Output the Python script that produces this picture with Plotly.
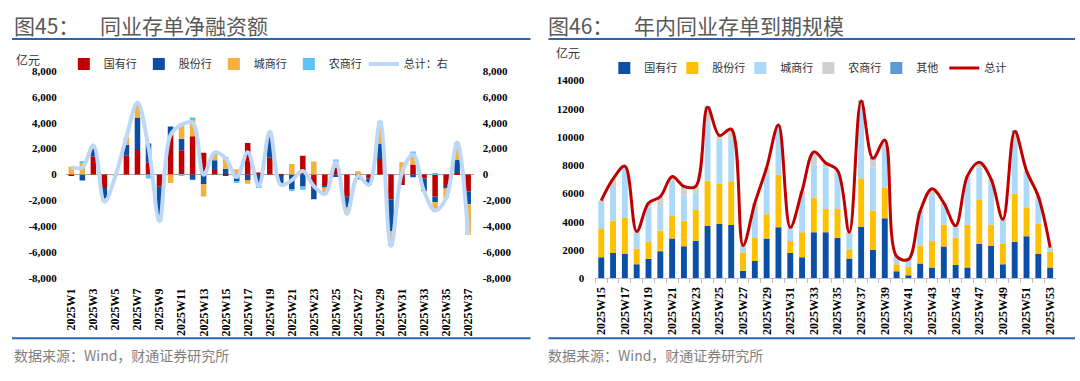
import plotly.graph_objects as go

# ---------------- Left chart data (图45) ----------------
weeks_l = ["2025W%d" % i for i in range(1, 38)]
soe_l   = [-50, 0, 1400, -1050, 0, 1450, 1900, 900, -950, 3050, 1870, 2950, 1690, 350, -100, 0, 2440, 150, 1300, -50,
           0, 1440, -1100, -800, 500, -1720, 0, -300, 1200, -1920, -800, 770, -300, -1700, -920, 120, -1300]
jsb_l   = [0, -470, 600, -800, 0, 850, 2500, 1500, -2200, 650, 900, -400, -750, 750, 450, -500, -420, -670, 1800, -650,
           -1170, -920, -800, -200, -200, -820, -370, -500, 1200, -2450, 0, -220, -1000, -450, -150, 1000, -1000]
city_l  = [600, 900, 250, -150, -100, 600, 1150, 0, -350, -650, 1170, 1300, -950, 450, 700, 400, -300, 0, 100, 0,
           820, 0, 1000, -500, 450, -500, 250, 0, 1550, -950, 950, 800, 0, -750, -750, 1200, -2360]
rural_l = [0, 120, 0, -100, 0, 0, 0, -300, -100, 0, -100, 150, 0, 150, 200, -100, 0, -370, 100, -100,
           -80, -250, 0, 0, 200, 0, 0, 0, 150, -200, 0, 200, 0, 120, 0, 150, 0]
total_l = [a + b + c + d for a, b, c, d in zip(soe_l, jsb_l, city_l, rural_l)]
yticks_l = [-8000, -6000, -4000, -2000, 0, 2000, 4000, 6000, 8000]
ytext_l = ["-8,000", "-6,000", "-4,000", "-2,000", "0", "2,000", "4,000", "6,000", "8,000"]

# ---------------- Right chart data (图46) ----------------
weeks_r = ["2025W%d" % i for i in range(15, 54)]
soe_r   = [1480, 1780, 1710, 980, 1370, 1900, 2810, 2260, 2650, 3700, 3840, 3770, 520, 1210, 2810, 3610, 1780, 1480,
           3260, 3260, 2850, 1390, 3650, 2010, 4250, 480, 200, 1030, 750, 2240, 940, 750, 2440, 2280, 980, 2580,
           2970, 1710, 750]
jsb_r   = [2010, 2280, 2580, 1120, 1210, 1480, 1600, 1800, 2170, 3200, 2850, 3100, 1300, 1640, 1710, 3720, 850, 1780,
           2440, 1640, 2050, 660, 3420, 2790, 2150, 500, 600, 1280, 1890, 1550, 1920, 3010, 3100, 1500, 1440, 3420,
           2050, 2170, 1140]
city_r  = [1830, 2400, 3420, 1100, 2510, 1710, 2400, 1780, 1230, 4050, 3080, 3010, 450, 2240, 2850, 3360, 870, 2630,
           2350, 2920, 2500, 1100, 5090, 3040, 2810, 460, 460, 2330, 3240, 1300, 750, 3260, 2280, 2900, 1640, 3650,
           2350, 1670, 230]
rural_r = [180, 570, 230, 100, 230, 690, 390, 660, 460, 1100, 340, 680, 50, 230, 460, 160, 100, 300,
           900, 340, 230, 100, 340, 570, 570, 110, 70, 110, 450, 230, 110, 230, 390, 340, 110, 700,
           230, 230, 50]
other_r = [0, 0, 0, 0, 0, 0, 0, 0, 0, 60, 0, 0, 0, 0, 0, 0, 0, 0,
           0, 0, 0, 0, 60, 80, 0, 0, 0, 0, 0, 0, 0, 0, 0, 0, 0, 50,
           0, 0, 0]
total_r = [a + b + c + d + e for a, b, c, d, e in zip(soe_r, jsb_r, city_r, rural_r, other_r)]
yticks_r = [0, 2000, 4000, 6000, 8000, 10000, 12000, 14000]

CJK = "Noto Sans CJK SC"
NUM = "Liberation Serif"
tickfont = dict(family=NUM, size=11, color="#000000", weight="bold")
xtickfont = dict(family=NUM, size=12, color="#000000", weight="bold")

fig = go.Figure()

# left bars
for name, vals, color in [("国有行", soe_l, "#C00000"), ("股份行", jsb_l, "#0B4EA2"),
                          ("城商行", city_l, "#F4B13E"), ("农商行", rural_l, "#5CC3F5")]:
    fig.add_bar(x=weeks_l, y=vals, name=name, marker=dict(color=color, line=dict(width=0)),
                xaxis="x", yaxis="y", legend="legend")
fig.add_scatter(x=weeks_l, y=total_l, mode="lines", name="总计：右", legendwidth=60,
                line=dict(color="#BDD8F6", width=4, shape="spline", smoothing=1),
                xaxis="x", yaxis="y2", legend="legend")

# right bars
for name, vals, color in [("国有行", soe_r, "#0B50A6"), ("股份行", jsb_r, "#FFC000"),
                          ("城商行", city_r, "#ABDAF8"), ("农商行", rural_r, "#D0D0D0"),
                          ("其他", other_r, "#5B9BD5")]:
    fig.add_bar(x=weeks_r, y=vals, name=name, marker=dict(color=color, line=dict(width=0)),
                xaxis="x2", yaxis="y3", legend="legend2")
fig.add_scatter(x=weeks_r, y=total_r, mode="lines", name="总计", legendwidth=40,
                line=dict(color="#C00000", width=3, shape="spline", smoothing=1),
                xaxis="x2", yaxis="y3", legend="legend2")

def py(px):
    return 1 - px / 381.0

yl_dom = [py(281), py(67)]
zero_pos = (yl_dom[0] + yl_dom[1]) / 2

fig.update_layout(
    width=1080, height=381, autosize=False,
    margin=dict(l=0, r=0, t=0, b=0),
    paper_bgcolor="white", plot_bgcolor="white",
    barmode="relative", bargap=0.5,
    font=dict(family=CJK, size=11, color="#333333"),
    xaxis=dict(domain=[64 / 1080, 473 / 1080], anchor="y", type="category",
               tickmode="array", tickvals=weeks_l,
               ticktext=[w if i % 2 == 0 else "" for i, w in enumerate(weeks_l)],
               tickangle=-90, tickfont=xtickfont, showline=False, ticks="", showgrid=False,
               ticklabelstandoff=7, range=[-0.5, 36.5]),
    xaxis3=dict(overlaying="x", anchor="free", position=zero_pos, type="linear",
                range=[-0.5, 36.5], tickmode="array", tickvals=[i - 0.5 for i in range(38)],
                showticklabels=False, ticks="outside", ticklen=3, tickcolor="#A6A6A6",
                showline=False, showgrid=False, zeroline=False),
    yaxis=dict(domain=yl_dom, anchor="x", range=[-8000, 8000], tickmode="array",
               tickvals=yticks_l, ticktext=ytext_l, tickfont=tickfont, showgrid=False,
               zeroline=True, zerolinecolor="#A6A6A6", zerolinewidth=1, showline=False,
               ticklabelstandoff=8),
    yaxis2=dict(overlaying="y", side="right", anchor="x", range=[-8000, 8000], tickmode="array",
                tickvals=yticks_l, ticktext=ytext_l, tickfont=tickfont, showgrid=False,
                zeroline=False, showline=False, ticklabelstandoff=8),
    xaxis2=dict(domain=[595 / 1080, 1057 / 1080], anchor="y3", type="category",
                tickmode="array", tickvals=weeks_r,
                ticktext=[w if i % 2 == 0 else "" for i, w in enumerate(weeks_r)],
                tickangle=-90, tickfont=xtickfont, showline=True, linecolor="#BFBFBF", linewidth=1,
                ticks="outside", ticklen=4, tickcolor="#BFBFBF", tickson="boundaries", showgrid=False,
                ticklabelstandoff=3, range=[-0.5, 38.5]),
    yaxis3=dict(domain=[py(281), py(77)], anchor="x2", range=[0, 14000], tickmode="array",
                tickvals=yticks_r, ticktext=[str(v) for v in yticks_r], tickfont=tickfont,
                showgrid=False, zeroline=False, showline=False, ticklabelstandoff=10),
    legend=dict(orientation="h", x=62 / 1080, xanchor="left", y=py(60), yanchor="middle",
                font=dict(family=CJK, size=11, color="#333333"), entrywidth=30, entrywidthmode="pixels",
                bgcolor="rgba(0,0,0,0)", traceorder="normal"),
    legend2=dict(orientation="h", x=604 / 1080, xanchor="left", y=py(64), yanchor="middle",
                 font=dict(family=CJK, size=11, color="#333333"), entrywidth=23, entrywidthmode="pixels",
                 bgcolor="rgba(0,0,0,0)", traceorder="normal"),
    showlegend=True,
)

ann = []
def text(x, y, s, size, color, anchor="left"):
    ann.append(dict(x=x / 1080, y=py(y), xref="paper", yref="paper", text=s, showarrow=False,
                    xanchor=anchor, yanchor="middle", font=dict(family=CJK, size=size, color=color)))

text(10, 20, "图45：", 21, "#595959")
text(96, 20, "同业存单净融资额", 21, "#595959")
text(546, 20, "图46：", 21, "#595959")
text(632, 20, "年内同业存单到期规模", 21, "#595959")
text(12, 55, "亿元", 12, "#333333")
text(554, 48, "亿元", 12, "#333333")
text(10, 360, "数据来源：Wind，财通证券研究所", 14, "#7F7F7F")
text(546, 360, "数据来源：Wind，财通证券研究所", 14, "#7F7F7F")
fig.update_layout(annotations=ann)

shapes = []
for x0, x1 in [(10, 530), (548, 1076)]:
    for yy in [34, 343]:
        shapes.append(dict(type="line", xref="paper", yref="paper", x0=x0 / 1080, x1=x1 / 1080,
                           y0=py(yy), y1=py(yy), line=dict(color="#2E64AE", width=2)))
fig.update_layout(shapes=shapes)

fig.write_html("out.html", config={"displayModeBar": False},
               post_script="document.body.style.margin='0';document.body.style.overflow='hidden';")
